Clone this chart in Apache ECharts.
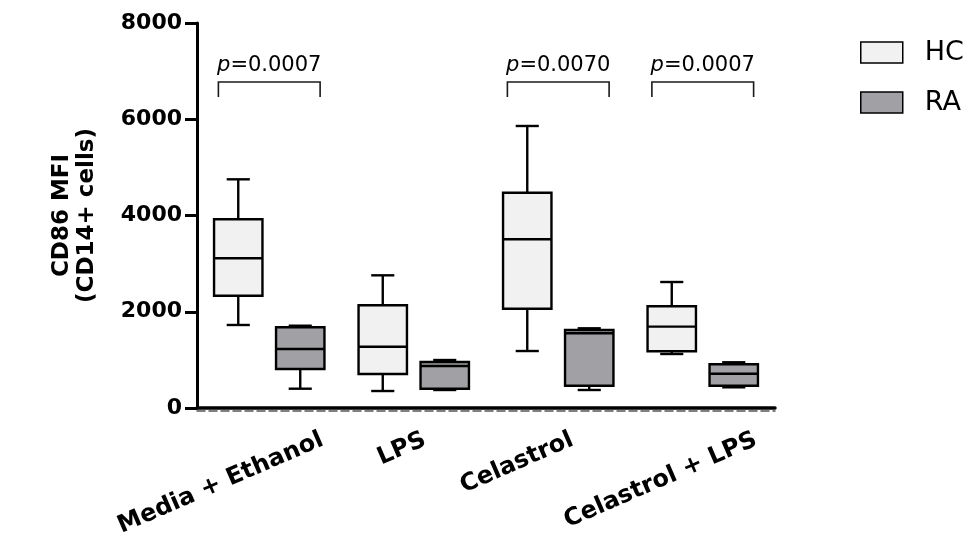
<!DOCTYPE html>
<html>
<head>
<meta charset="utf-8">
<script src="https://cdn.jsdelivr.net/npm/echarts@6/dist/echarts.min.js"></script>
<style>
  html, body { margin: 0; padding: 0; background: #ffffff; }
  #chart { width: 971px; height: 537px; }
</style>
</head>
<body>
<div id="chart"></div>
<script>
// Treatment conditions along the x axis
const categories = ['Media + Ethanol', 'LPS', 'Celastrol', 'Celastrol + LPS'];

// Five-number summaries per condition: [min, Q1, median, Q3, max]
const hcStats = [
  [1725, 2334, 3111, 3921, 4752],
  [353, 706, 1274, 2134, 2757],
  [1184, 2063, 3505, 4474, 5860],
  [1122, 1178, 1690, 2113, 2618]
];
const raStats = [
  [401, 810, 1226, 1677, 1710],
  [374, 401, 873, 956, 997],
  [374, 463, 1552, 1621, 1656],
  [430, 463, 713, 908, 950]
];

// HC vs RA comparisons: category index, bracket level and p value
const pCategories = [0, 2, 3];
const pValues = ['0.0007', '0.0070', '0.0007'];
const bracketLevel = 6775;

// Y axis ticks
const yTicks = [0, 2000, 4000, 6000, 8000];

// ---- styling ----
const FONT = 'DejaVu Sans';
const INK = '#000000';
const HC_FILL = '#f1f1f1';
const RA_FILL = '#a1a1a5';
const labelShiftX = [53, 11, 14, 53];   // nudge of each rotated category label
const labelDrop = 31;
const labelAngle = 23.5;

function boxRenderer(shift, fill) {
  return function (params, api) {
    const idx = api.value(0);
    const band = api.size([1, 0])[0];
    const cx = api.coord([idx, 0])[0] + shift * band;
    const half = band * 0.1675;
    const cap = band * 0.08;
    const y = k => api.coord([idx, api.value(k)])[1];
    const yMin = y(1), yQ1 = y(2), yMed = y(3), yQ3 = y(4), yMax = y(5);
    const stroke = { stroke: INK, lineWidth: 2.4 };
    return {
      type: 'group',
      children: [
        { type: 'line', shape: { x1: cx, y1: yQ3, x2: cx, y2: yMax }, style: stroke },
        { type: 'line', shape: { x1: cx, y1: yQ1, x2: cx, y2: yMin }, style: stroke },
        { type: 'line', shape: { x1: cx - cap, y1: yMax, x2: cx + cap, y2: yMax }, style: stroke },
        { type: 'line', shape: { x1: cx - cap, y1: yMin, x2: cx + cap, y2: yMin }, style: stroke },
        { type: 'rect', shape: { x: cx - half, y: yQ3, width: 2 * half, height: yQ1 - yQ3 },
          style: { fill: fill, stroke: INK, lineWidth: 2.4 } },
        { type: 'line', shape: { x1: cx - half, y1: yMed, x2: cx + half, y2: yMed }, style: stroke }
      ]
    };
  };
}

function categoryLabelRenderer(params, api) {
  const i = api.value(0);
  const p = api.coord([i, 0]);
  return {
    type: 'text',
    x: p[0] + labelShiftX[i],
    y: p[1] + labelDrop,
    rotation: labelAngle * Math.PI / 180,
    style: {
      text: categories[i],
      fontFamily: FONT, fontWeight: 'bold', fontSize: 24,
      fill: '#000', align: 'right', verticalAlign: 'middle'
    }
  };
}

function bracketRenderer(params, api) {
  const idx = api.value(0);
  const band = api.size([1, 0])[0];
  const p = api.coord([idx, api.value(1)]);
  const hw = band * 0.352;
  const drop = 15;
  const s = { stroke: '#1a1a1a', lineWidth: 1.6 };
  return {
    type: 'group',
    children: [
      { type: 'polyline', shape: { points: [[p[0] - hw, p[1] + drop], [p[0] - hw, p[1]], [p[0] + hw, p[1]], [p[0] + hw, p[1] + drop]] },
        style: Object.assign({ fill: null }, s) },
      { type: 'text', x: p[0], y: p[1] - 6,
        style: {
          text: '{i|p}=' + pValues[params.dataIndex],
          rich: { i: { fontStyle: 'italic', fontFamily: FONT, fontSize: 21, fill: '#000' } },
          fontFamily: FONT, fontSize: 21, fill: '#000',
          align: 'center', verticalAlign: 'bottom'
        } }
    ]
  };
}

const chart = echarts.init(document.getElementById('chart'), null, { renderer: 'canvas' });

chart.setOption({
  animation: false,
  backgroundColor: '#ffffff',
  grid: { left: 197, right: 196, top: 23, bottom: 129, containLabel: false },
  legend: {
    orient: 'vertical', left: 860, top: 39, padding: 0,
    itemWidth: 42, itemHeight: 21, itemGap: 23, icon: 'rect',
    textStyle: { fontFamily: FONT, fontSize: 27, color: '#000', lineHeight: 21, padding: [0, 0, 0, 17] },
    data: [
      { name: 'HC', itemStyle: { color: HC_FILL, borderColor: INK, borderWidth: 1.5 } },
      { name: 'RA', itemStyle: { color: RA_FILL, borderColor: INK, borderWidth: 1.5 } }
    ]
  },
  xAxis: [
    {
      type: 'category', data: categories, boundaryGap: true,
      axisLine: { show: true, lineStyle: { color: '#000', width: 3.5 } },
      axisTick: { show: false }, axisLabel: { show: false }, splitLine: { show: false }
    },
    {
      type: 'category', data: categories, position: 'bottom', offset: 2.5,
      axisLine: { show: true, lineStyle: { color: '#555', width: 1.5, type: [8, 4] } },
      axisTick: { show: false }, axisLabel: { show: false }, splitLine: { show: false }
    }
  ],
  yAxis: {
    type: 'value',
    min: yTicks[0], max: yTicks[yTicks.length - 1], interval: yTicks[1] - yTicks[0],
    name: 'CD86 MFI\n(CD14+ cells)', nameLocation: 'middle', nameGap: 97,
    nameTextStyle: { fontFamily: FONT, fontWeight: 'bold', fontSize: 23, lineHeight: 25, color: '#000' },
    axisLine: { show: true, lineStyle: { color: '#000', width: 3 } },
    axisTick: { show: true, length: 12, lineStyle: { color: '#000', width: 3 } },
    axisLabel: { fontFamily: FONT, fontWeight: 'bold', fontSize: 22, color: '#000', margin: 15,
                 formatter: v => String(v) },
    splitLine: { show: false }
  },
  series: [
    {
      name: 'HC', type: 'custom', renderItem: boxRenderer(-0.2145, HC_FILL),
      itemStyle: { color: HC_FILL, borderColor: INK },
      encode: { x: 0, y: [1, 2, 3, 4, 5] },
      data: hcStats.map((s, i) => [i].concat(s)), z: 3
    },
    {
      name: 'RA', type: 'custom', renderItem: boxRenderer(0.2145, RA_FILL),
      itemStyle: { color: RA_FILL, borderColor: INK },
      encode: { x: 0, y: [1, 2, 3, 4, 5] },
      data: raStats.map((s, i) => [i].concat(s)), z: 3
    },
    {
      name: 'significance', type: 'custom', renderItem: bracketRenderer, silent: true,
      encode: { x: 0, y: 1 },
      data: pCategories.map(i => [i, bracketLevel]), z: 4
    },
    {
      name: 'categoryLabels', type: 'custom', renderItem: categoryLabelRenderer, silent: true,
      encode: { x: 0, y: 1 }, clip: false,
      data: categories.map((c, i) => [i, 0]), z: 4
    }
  ]
});
</script>
</body>
</html>
